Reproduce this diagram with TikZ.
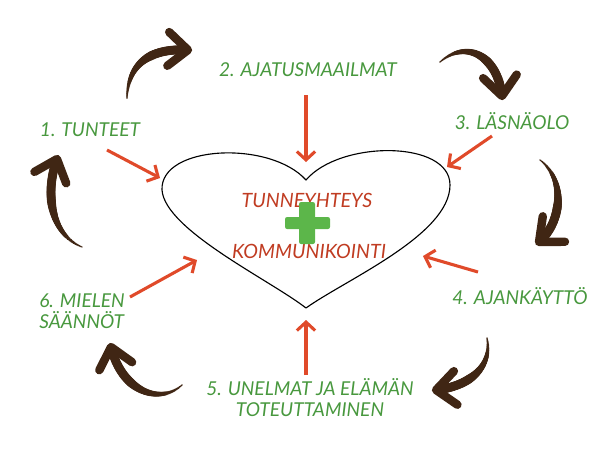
\documentclass[tikz,border=0pt]{standalone}
\usepackage{fontspec}
\setmainfont{Lato}
\usetikzlibrary{arrows.meta,decorations.markings}

\definecolor{lblgreen}{RGB}{72,152,62}
\definecolor{plusgreen}{RGB}{92,182,74}
\definecolor{arrowred}{RGB}{224,74,42}
\definecolor{heartred}{RGB}{192,60,34}
\definecolor{swirlbrown}{RGB}{64,38,20}

\tikzset{
  lbl/.style={text=lblgreen, font=\fontsize{13.6}{15}\selectfont\itshape, inner sep=0pt},
  hearttext/.style={text=heartred, font=\fontsize{14}{17}\selectfont\itshape, inner sep=0pt},
  redarrow/.style={arrowred, line width=2.2pt, line cap=butt, -{Straight Barb[length=6pt,width=13pt]}},
  % brush-like brown arrow: dots that grow along the path, then a barb
  swirl/.style={postaction={decorate}, decoration={markings,
    mark=between positions 0 and 0.98 step 0.01 with {
      \pgfmathsetmacro\brushr{0.5+2.7*min(1,0.01*\pgfkeysvalueof{/pgf/decoration/mark info/sequence number}*1.7)}
      \fill[swirlbrown] (0,0) circle (\brushr pt);},
    mark=at position 1 with {\draw[swirlbrown, line width=6pt]
      (-14pt,12pt) -- (0,0) -- (-14pt,-12pt);}}}
}

\begin{document}
\begin{tikzpicture}[x=0.025cm, y=-0.025cm, line join=round, line cap=round]
  \useasboundingbox (0,0) rectangle (600,450);

  % heart
  \draw[line width=0.8pt] (306,180) .. controls (270,140) and (160,145) .. (162,190)
    .. controls (165,230) and (270,280) .. (306,308)
    .. controls (345,280) and (450,235) .. (450,185)
    .. controls (450,140) and (340,140) .. (306,180) -- cycle;
  \node[hearttext] (yhteys) at (307,200) {TUNNEYHTEYS};
  \node[hearttext] (kommu) at (309,251) {KOMMUNIKOINTI};
  \fill[plusgreen, rounded corners=1.5pt] (285,217) rectangle (330,229);
  \fill[plusgreen, rounded corners=1.5pt] (299,202) rectangle (315,244);

  % labels
  \node[lbl] (tunteet) at (90,130) {1. TUNTEET};
  \node[lbl] (ajatus) at (308,70) {2. AJATUSMAAILMAT};
  \node[lbl] (lasna) at (512,121) {3. LÄSNÄOLO};
  \node[lbl] (ajank) at (520,296) {4. AJANKÄYTTÖ};
  \node[lbl, align=center] (unelmat) at (310,398) {5. UNELMAT JA ELÄMÄN\\TOTEUTTAMINEN};
  \node[lbl, align=left, anchor=west] (mielen) at (39,311) {6. MIELEN\\SÄÄNNÖT};

  % red arrows into the heart
  \coordinate (s1) at (107,150);  \coordinate (h1) at (160,178);
  \coordinate (s2) at (306,95);   \coordinate (h2) at (306,162);
  \coordinate (s3) at (492,136);  \coordinate (h3) at (447,167);
  \coordinate (s4) at (478,272);  \coordinate (h4) at (423,256);
  \coordinate (s5) at (306,375);  \coordinate (h5) at (306,320);
  \coordinate (s6) at (130,297);  \coordinate (h6) at (197,260);
  \draw[redarrow] (s1) -- (h1);
  \draw[redarrow] (s2) -- (h2);
  \draw[redarrow] (s3) -- (h3);
  \draw[redarrow] (s4) -- (h4);
  \draw[redarrow] (s5) -- (h5);
  \draw[redarrow] (s6) -- (h6);

  % brown arrows around
  \path[swirl] (127,98) .. controls (128,62) and (152,48) .. (188,50);
  \path[swirl] (440,62) .. controls (468,38) and (498,58) .. (502,96);
  \path[swirl] (540,160) .. controls (566,180) and (562,222) .. (539,242);
  \path[swirl] (487,338) .. controls (493,370) and (465,387) .. (436,390);
  \path[swirl] (182,385) .. controls (160,405) and (122,392) .. (111,347);
  \path[swirl] (82,247) .. controls (52,235) and (44,195) .. (57,159);
\end{tikzpicture}
\end{document}
